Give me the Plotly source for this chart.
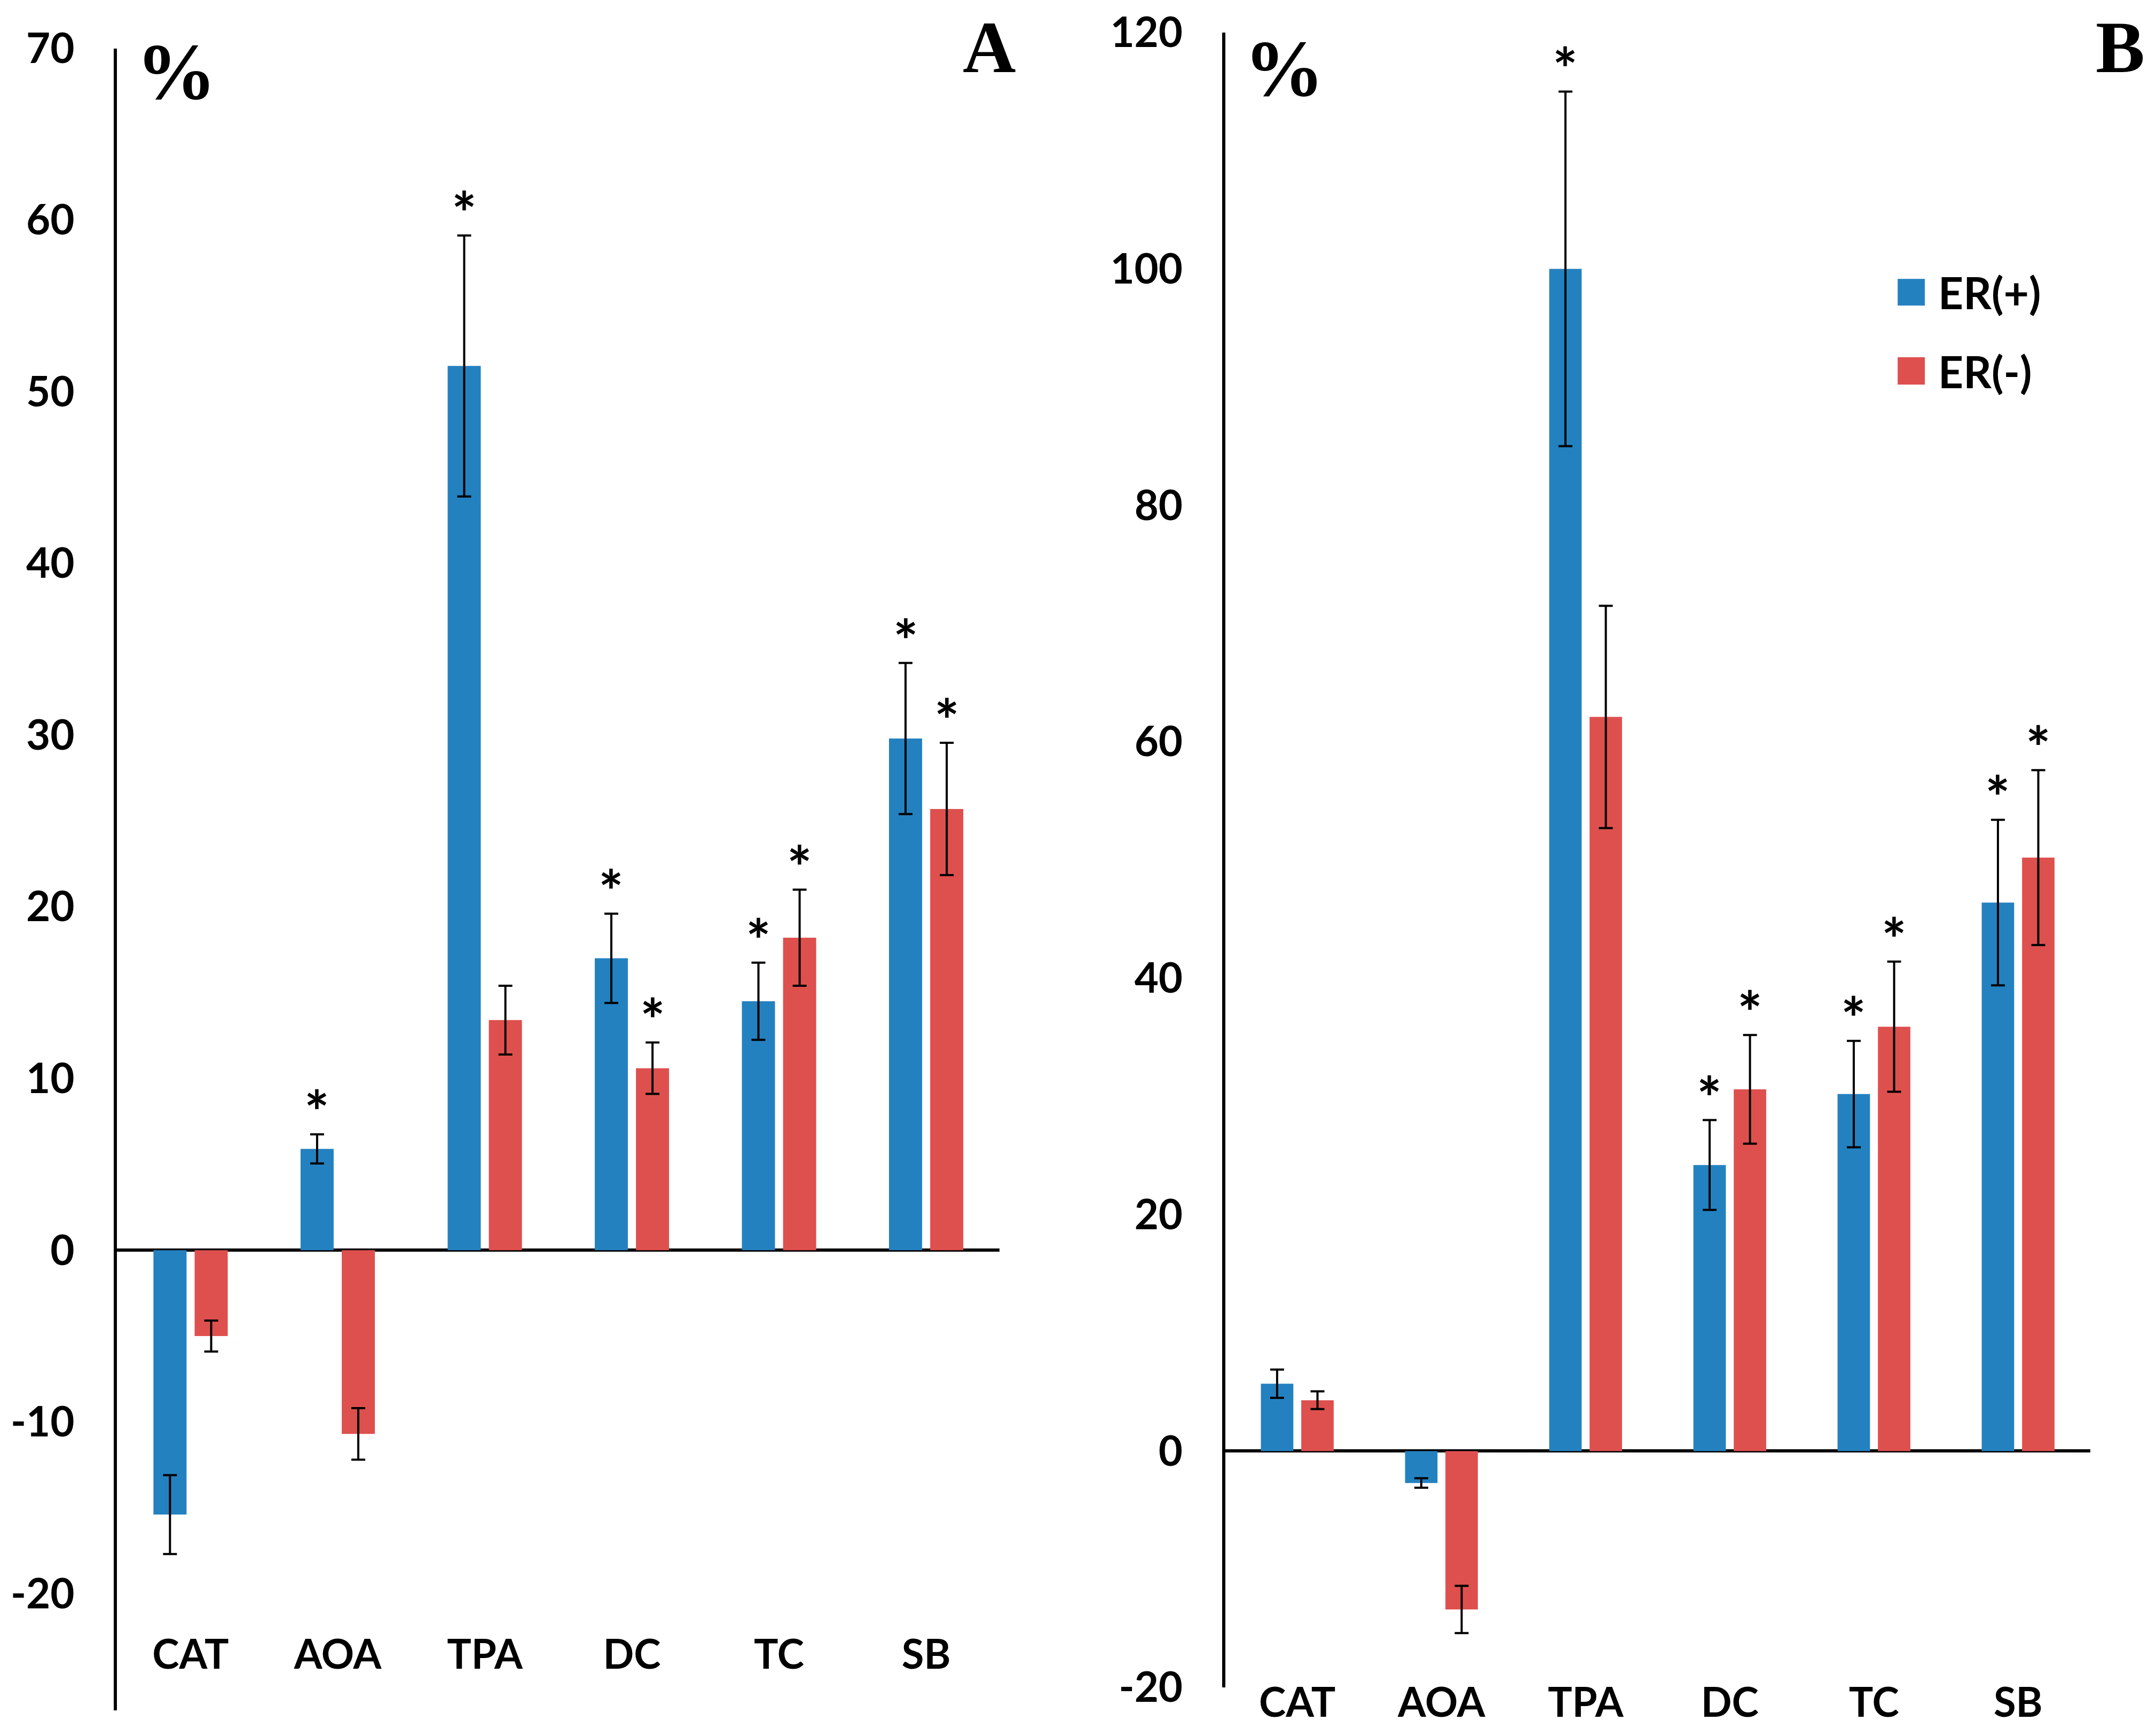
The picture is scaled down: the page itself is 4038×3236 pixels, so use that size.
import plotly.graph_objects as go

categories = ["CAT", "AOA", "TPA", "DC", "TC", "SB"]

# panel A
a_pos = [-15.4, 5.9, 51.5, 17.0, 14.5, 29.8]
a_pos_err = [2.3, 0.85, 7.6, 2.6, 2.25, 4.4]
a_neg = [-5.0, -10.7, 13.4, 10.6, 18.2, 25.7]
a_neg_err = [0.9, 1.5, 2.0, 1.5, 2.8, 3.85]
a_pos_star = [False, True, True, True, True, True]
a_neg_star = [False, False, False, True, True, True]
a_ticks = [-20, -10, 0, 10, 20, 30, 40, 50, 60, 70]
a_ticktext = ["-20", "-10", "0", "10", "20", "30", "40", "50", "60", "70"]

# panel B
b_pos = [5.7, -2.7, 100.0, 24.2, 30.2, 46.4]
b_pos_err = [1.2, 0.4, 15.0, 3.8, 4.5, 7.0]
b_neg = [4.3, -13.4, 62.1, 30.6, 35.9, 50.2]
b_neg_err = [0.75, 2.0, 9.4, 4.6, 5.5, 7.4]
b_pos_star = [False, False, True, True, True, True]
b_neg_star = [False, False, False, True, True, True]
b_ticks = [-20, 0, 20, 40, 60, 80, 100, 120]
b_ticktext = ["-20", "0", "20", "40", "60", "80", "100", "120"]

blue = "#2481C0"
red = "#DE504E"
off = 0.14
bw = 0.225
font = "Lato"

fig = go.Figure()
annots = []


def add_panel(pos, pos_err, neg, neg_err, pos_star, neg_star, xa, ya):
    idx = list(range(len(categories)))
    for vals, errs, stars, col, sh in [(pos, pos_err, pos_star, blue, -off),
                                       (neg, neg_err, neg_star, red, off)]:
        xs = [i + sh for i in idx]
        fig.add_trace(go.Bar(
            x=xs, y=vals, width=bw, marker=dict(color=col, line=dict(width=0)),
            error_y=dict(type="data", array=errs, color="black", thickness=4, width=13),
            xaxis=xa, yaxis=ya, showlegend=False))
        for x, v, e, s in zip(xs, vals, errs, stars):
            if s:
                annots.append(dict(x=x, y=v + e, xref=xa, yref=ya, text="*",
                                   showarrow=False, yanchor="middle", yshift=44,
                                   font=dict(family=font, size=110, color="black", weight="bold")))


add_panel(a_pos, a_pos_err, a_neg, a_neg_err, a_pos_star, a_neg_star, "x", "y")
add_panel(b_pos, b_pos_err, b_neg, b_neg_err, b_pos_star, b_neg_star, "x2", "y2")

tickfont = dict(family=font, size=78, color="black", weight="bold")
catfont = dict(family=font, size=76, color="black", weight="bold")

xcommon = dict(tickvals=list(range(6)), ticktext=categories, range=[-0.5, 5.5],
               showline=False, showgrid=False, zeroline=False, ticks="", tickfont=catfont,
               automargin=False)
ycommon = dict(showline=True, linecolor="black", linewidth=6, showgrid=False,
               zeroline=True, zerolinecolor="black", zerolinewidth=6, ticks="",
               tickfont=tickfont, ticklabelstandoff=58, automargin=False)

fig.update_layout(
    width=4038, height=3236,
    margin=dict(l=0, r=0, t=0, b=0),
    paper_bgcolor="white", plot_bgcolor="white",
    xaxis=dict(domain=[0.0523, 0.4617], anchor="free", position=0.0606, **xcommon),
    yaxis=dict(domain=[0.0127, 0.9745], range=[-26.8, 70], tickvals=a_ticks, ticktext=a_ticktext,
               anchor="x", **ycommon),
    xaxis2=dict(domain=[0.5663, 0.9675], anchor="y2", ticklabelstandoff=-22, **xcommon),
    yaxis2=dict(domain=[0.0259, 0.9837], range=[-20, 120], tickvals=b_ticks, ticktext=b_ticktext,
                anchor="x2", **ycommon),
    showlegend=False,
)

# panel marks and percent signs
for txt, x, y, size in [("%", 0.0798, 0.961, 150), ("%", 0.5935, 0.963, 150),
                        ("A", 0.457, 0.9752, 138), ("B", 0.9815, 0.9752, 138)]:
    annots.append(dict(x=x, y=y, xref="paper", yref="paper", text=txt, showarrow=False,
                       xanchor="center", yanchor="middle",
                       font=dict(family="Liberation Serif", size=size, color="black", weight="bold")))

# legend drawn by hand so the swatches can be large
legend_items = [("ER(+)", blue, 0.8256, 0.8411), ("ER(-)", red, 0.7799, 0.7957)]
shapes = []
for name, col, y0, y1 in legend_items:
    shapes.append(dict(type="rect", xref="paper", yref="paper", x0=0.8782, x1=0.8908,
                       y0=y0, y1=y1, fillcolor=col, line=dict(width=0)))
    annots.append(dict(x=0.8965, y=(y0 + y1) / 2, xref="paper", yref="paper", text=name,
                       showarrow=False, xanchor="left", yanchor="middle",
                       font=dict(family=font, size=82, color="black", weight="bold")))

fig.update_layout(annotations=annots, shapes=shapes)
fig.write_html("out.html")
